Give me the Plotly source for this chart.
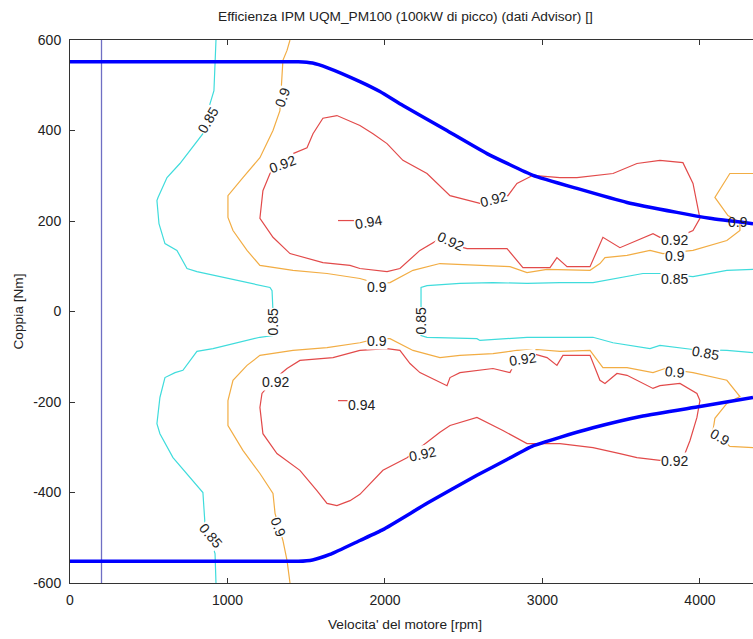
import plotly.graph_objects as go

# ---- torque envelope [rpm, Nm] ----
speed_max = [0, 500, 1000, 1300, 1450, 1540, 1632, 1841, 1968, 2114, 2368, 2648, 2940, 3219, 3537, 3854,
             4063, 4337]
torque_max = [552, 552, 552, 552, 552, 549, 539, 508, 486, 455, 405, 349, 301, 272, 241, 219, 206, 194]
speed_min = [0, 500, 1000, 1300, 1450, 1540, 1650, 1841, 1987, 2267, 2584, 2775, 2940, 3111, 3321, 3638,
             4000, 4337]
torque_min = [-552, -552, -552, -552, -552, -549, -537, -506, -482, -424, -362, -327, -297, -278, -257,
              -231, -210, -190]

# minimum speed marker [rpm]
speed_floor = 200

# axis ticks
x_ticks = [0, 1000, 2000, 3000, 4000]
y_ticks = [-600, -400, -200, 0, 200, 400, 600]
y_tick_text = ["-600", "-400", "-200", "0", "200", "400", "600"]

# ---- efficiency iso-lines ----
# 0.85
x85_left = [927, 921, 914, 876, 844, 698, 616, 559, 552, 565, 603, 679, 743, 806, 997, 1270, 1283, 1289,
            1289, 1206, 908, 806, 717, 667, 603, 571, 552, 571, 654, 781, 844, 857, 921, 927]
y85_left = [600, 555, 488, 444, 393, 327, 296, 252, 245, 194, 150, 135, 95, 88, 73, 53, 46, 0,
            -53, -57, -82, -88, -130, -135, -146, -190, -248, -270, -323, -373, -400, -469, -535, -600]
x85_right = [4337, 4171, 3956, 3746, 3638, 3448, 3321, 3111, 2902, 2686, 2476, 2267, 2229, 2229,
             2229, 2267, 2584, 2603, 2902, 3321, 3448, 3683, 3746, 3956, 4171, 4337]
y85_right = [93, 91, 77, 84, 84, 73, 64, 64, 62, 64, 62, 57, 53, 0,
             -53, -57, -60, -64, -57, -57, -69, -82, -75, -84, -86, -91]

# 0.90
x90_up = [1397, 1378, 1352, 1333, 1289, 1206, 1098, 1003, 1003, 1035, 1124, 1206, 1416, 1632, 1841, 1949,
          2032, 2178, 2349, 2584, 2794, 2902, 3029, 3302, 3365, 3397, 3537, 3683, 3765, 3956, 4171, 4254,
          4254, 4178, 4095, 4190, 4337]
y90_up = [600, 577, 555, 444, 400, 340, 296, 256, 208, 179, 135, 102, 91, 84, 73, 62,
          64, 91, 106, 102, 99, 86, 93, 91, 106, 119, 124, 135, 128, 135, 157, 179,
          197, 212, 252, 305, 305]
x90_dn = [1397, 1378, 1352, 1302, 1289, 1206, 1098, 1003, 1003, 1035, 1124, 1206, 1416, 1632, 1841, 1949,
          2032, 2178, 2349, 2476, 2686, 2838, 2965, 3111, 3302, 3384, 3537, 3702, 3778, 3956, 4171, 4254,
          4171, 4095, 4083, 4190, 4337]
y90_dn = [-600, -550, -506, -446, -402, -358, -307, -252, -197, -152, -119, -97, -86, -80, -69, -60,
          -60, -86, -102, -97, -93, -86, -84, -88, -86, -124, -124, -135, -126, -135, -152, -188,
          -203, -236, -263, -298, -301]

# 0.92
x92_up = [1416, 1505, 1543, 1606, 1695, 1841, 1924, 2013, 2114, 2267, 2413, 2603, 2781, 2838, 2940, 3111,
          3219, 3448, 3600, 3746, 3892, 3956, 4000, 3956, 3873, 3746, 3702, 3492, 3384, 3302, 3156, 3092,
          3048, 2876, 2775, 2521, 2330, 2222, 2095, 2013, 1841, 1778, 1606, 1397, 1289, 1206, 1225, 1270,
          1333, 1416]
y92_up = [349, 362, 393, 427, 433, 411, 393, 371, 334, 305, 256, 239, 256, 283, 301, 296,
          296, 305, 327, 334, 329, 283, 206, 179, 166, 164, 172, 141, 164, 99, 99, 119,
          97, 97, 139, 139, 157, 135, 95, 88, 95, 102, 108, 128, 164, 206, 267, 305,
          334, 349]
x92_dn = [1841, 1670, 1460, 1378, 1289, 1219, 1206, 1225, 1314, 1460, 1568, 1632, 1695, 1778, 1841, 1987,
          2140, 2349, 2413, 2584, 2749, 2902, 3111, 3321, 3492, 3600, 3746, 3905, 3937, 3981, 4000, 3981,
          3873, 3746, 3702, 3537, 3473, 3397, 3365, 3302, 3130, 3092, 3029, 2940, 2838, 2794, 2686, 2476,
          2413, 2394, 2222, 2159, 2095, 2013, 1841]
y92_dn = [-86, -102, -108, -126, -152, -181, -212, -270, -314, -351, -396, -424, -429, -418, -404, -351,
          -323, -267, -252, -234, -263, -292, -292, -301, -314, -323, -329, -314, -285, -234, -197, -181,
          -159, -164, -170, -141, -137, -159, -152, -97, -97, -119, -102, -93, -104, -135, -126, -135,
          -146, -164, -135, -115, -86, -82, -86]

# 0.94
x94_up = [1702, 1860]
y94_up = [201, 201]
x94_dn = [1702, 1860]
y94_dn = [-197, -197]

# iso-line labels: text, speed, torque, angle, opaque box
label_text = ["0.85", "0.9", "0.92", "0.94", "0.92", "0.92", "0.92", "0.9", "0.9", "0.9", "0.85",
              "0.85", "0.85", "0.9", "0.92", "0.94", "0.92", "0.92", "0.92", "0.9", "0.9", "0.85",
              "0.85", "0.9"]
label_x = [876, 1352, 1352, 1898, 2692, 2413, 3841, 1949, 3841, 4241, 3841,
           1289, 2229, 1949, 1302, 1848, 2241, 2876, 3841, 3841, 4127, 4038,
           889, 1321]
label_y = [424, 473, 325, 197, 248, 155, 157, 55, 122, 197, 71,
           -22, -22, -66, -155, -206, -316, -104, -331, -133, -278, -91,
           -495, -477]
label_angle = [-60, -70, -20, -10, -15, 25, 0, 0, 0, 0, 0,
               -90, -90, 0, 0, 0, -12, -8, 0, 5, 30, 10,
               50, 70]
label_boxed = [True] * 24
label_boxed[9] = False

C85 = "#3fdcdc"
C90 = "#f2ad44"
C92 = "#e24a4a"
FONT = "Liberation Sans, Arial, sans-serif"
INK = "#222222"

fig = go.Figure()


def iso(x, y, color):
    fig.add_trace(go.Scatter(x=x, y=y, mode="lines", line=dict(color=color, width=1.2),
                             hoverinfo="skip", showlegend=False))


iso(x85_left, y85_left, C85)
iso(x85_right, y85_right, C85)
iso(x90_up, y90_up, C90)
iso(x90_dn, y90_dn, C90)
iso(x92_up, y92_up, C92)
iso(x92_dn, y92_dn, C92)
iso(x94_up, y94_up, C92)
iso(x94_dn, y94_dn, C92)

fig.add_trace(go.Scatter(x=[speed_floor, speed_floor], y=[-600, 600], mode="lines",
                         line=dict(color="#6f6fc4", width=1.3), showlegend=False, hoverinfo="skip"))
fig.add_trace(go.Scatter(x=speed_max, y=torque_max, mode="lines",
                         line=dict(color="#0000ff", width=3.5, shape="spline", smoothing=0.4),
                         showlegend=False))
fig.add_trace(go.Scatter(x=speed_min, y=torque_min, mode="lines",
                         line=dict(color="#0000ff", width=3.5, shape="spline", smoothing=0.4),
                         showlegend=False))

for t, x, y, a, b in zip(label_text, label_x, label_y, label_angle, label_boxed):
    fig.add_annotation(x=x, y=y, text=t, textangle=a, showarrow=False,
                       font=dict(family=FONT, size=14, color=INK),
                       bgcolor="white" if b else "rgba(0,0,0,0)", borderpad=0)

fig.add_annotation(text="Efficienza IPM UQM_PM100 (100kW di picco) (dati Advisor) []",
                   xref="paper", yref="paper", x=0.4905, y=1.044, xanchor="center", yanchor="middle",
                   showarrow=False, font=dict(family=FONT, size=13.7, color=INK))
fig.add_annotation(text="Velocita' del motore [rpm]", xref="paper", yref="paper",
                   x=0.4905, y=-0.076, xanchor="center", yanchor="middle",
                   showarrow=False, font=dict(family=FONT, size=13.7, color=INK))
fig.add_annotation(text="Coppia [Nm]", xref="paper", yref="paper", textangle=-90,
                   x=-0.0761, y=0.5, xanchor="center", yanchor="middle",
                   showarrow=False, font=dict(family=FONT, size=13.7, color=INK))

fig.update_layout(
    width=753, height=639,
    margin=dict(l=70, r=0, t=40, b=56),
    paper_bgcolor="white", plot_bgcolor="white",
    font=dict(family=FONT, size=14, color=INK),
    xaxis=dict(range=[0, 4337], tickvals=x_ticks, ticks="inside", ticklen=5,
               tickcolor="#333333", showline=True, linecolor="#333333", linewidth=1, mirror="ticks",
               showgrid=False, zeroline=False, ticklabelstandoff=4),
    yaxis=dict(range=[-600, 600], tickvals=y_ticks, ticktext=y_tick_text, ticks="inside",
               ticklen=5, tickcolor="#333333", showline=True, linecolor="#333333", linewidth=1,
               mirror=False, showgrid=False, zeroline=False, ticklabelstandoff=5),
)

fig.write_html("out.html")
